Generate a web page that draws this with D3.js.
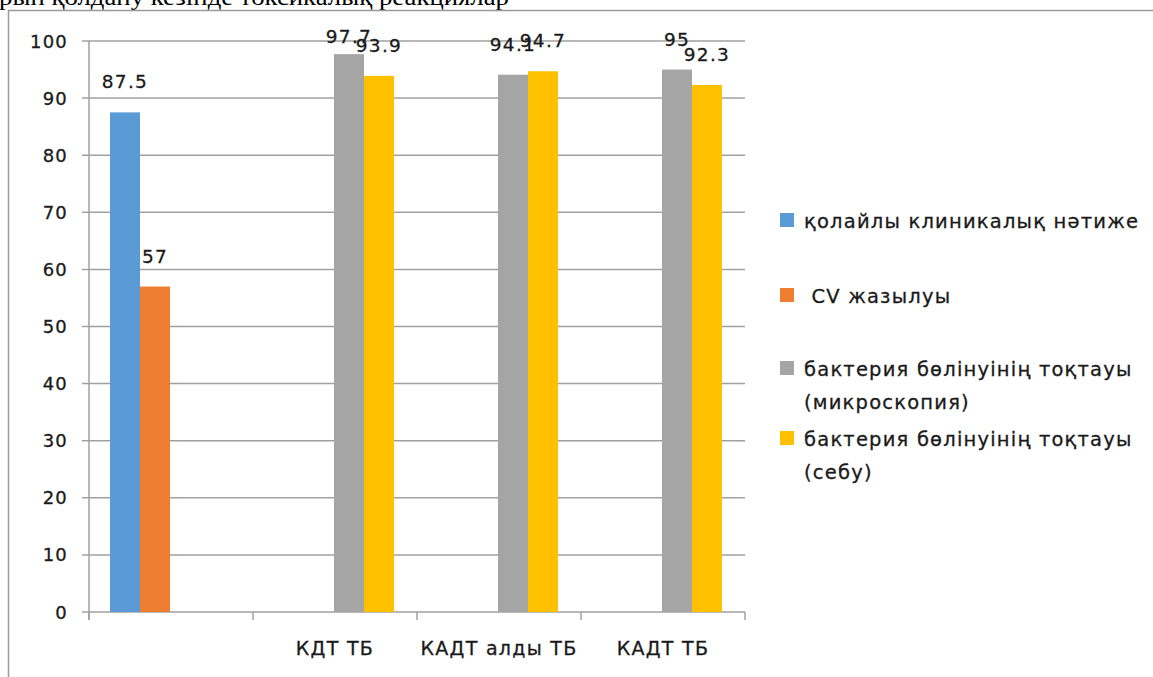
<!DOCTYPE html>
<html>
<head>
<meta charset="utf-8">
<script src="https://cdn.jsdelivr.net/npm/d3@7"></script>
<style>
  html, body { margin: 0; padding: 0; background: #fff; overflow: hidden; }
  text { font-family: "DejaVu Sans", sans-serif; fill: #1a1a1a; }
  text.lbl { stroke: #1a1a1a; stroke-width: 0.3px; }
</style>
</head>
<body>
<svg id="chart" width="1153" height="677"></svg>
<script>
const categories = ["", "КДТ ТБ", "КАДТ алды ТБ", "КАДТ ТБ"];
const seriesNames = [
  ["қолайлы клиникалық нәтиже"],
  [" CV жазылуы"],
  ["бактерия бөлінуінің тоқтауы", "(микроскопия)"],
  ["бактерия бөлінуінің тоқтауы", "(себу)"]
];
const favourable = [87.5, null, null, null];
const cvHealing = [57, null, null, null];
const stopMicroscopy = [null, 97.7, 94.1, 95];
const stopCulture = [null, 93.9, 94.7, 92.3];
const yTicks = [0, 10, 20, 30, 40, 50, 60, 70, 80, 90, 100];
const colors = ["#5B9BD5", "#ED7D31", "#A5A5A5", "#FFC000"];
const titleText = "рын қолдану кезінде токсикалық реакциялар";

const series = [favourable, cvHealing, stopMicroscopy, stopCulture];

const svg = d3.select("#chart");

// title (cut at top)
svg.append("text")
  .attr("x", -1).attr("y", 5)
  .attr("textLength", 510)
  .attr("lengthAdjust", "spacingAndGlyphs")
  .style("font-family", "'Liberation Serif', serif")
  .style("font-size", "23px")
  .style("fill", "#000")
  .text(titleText);

// border
svg.append("rect")
  .attr("x", 8.5).attr("y", 10.5)
  .attr("width", 1160).attr("height", 700)
  .attr("fill", "none").attr("stroke", "#9a9a9a").attr("stroke-width", 1.5);

const plotLeft = 89, plotRight = 745, plotTop = 41, plotBottom = 612;

const y = d3.scaleLinear().domain([0, 100]).range([plotBottom, plotTop]);
const x0 = d3.scaleBand().domain(categories.map((c, i) => i)).range([plotLeft, plotRight]).padding(0);
const x1 = d3.scaleBand().domain(d3.range(series.length))
  .range([21, x0.bandwidth() - 23]).padding(0);

// gridlines
svg.append("g").selectAll("line").data(yTicks).join("line")
  .attr("x1", plotLeft - 7).attr("x2", plotRight)
  .attr("y1", d => y(d)).attr("y2", d => y(d))
  .attr("stroke", "#a0a0a0").attr("stroke-width", 1.5);

// y axis line
svg.append("line")
  .attr("x1", plotLeft).attr("x2", plotLeft)
  .attr("y1", plotTop).attr("y2", plotBottom + 8)
  .attr("stroke", "#a0a0a0").attr("stroke-width", 1.5);

// y tick labels
svg.append("g").selectAll("text").data(yTicks).join("text")
  .attr("class", "lbl")
  .attr("x", 68).attr("y", d => y(d) + 6.5)
  .attr("text-anchor", "end")
  .style("font-size", "18px").style("letter-spacing", "1.2px")
  .text(d => d);

// x ticks
const xTickPos = d3.range(categories.length + 1).map(i => i === categories.length ? plotRight : x0(i));
svg.append("g").selectAll("line").data(xTickPos).join("line")
  .attr("x1", d => d).attr("x2", d => d)
  .attr("y1", plotBottom).attr("y2", plotBottom + 8)
  .attr("stroke", "#a0a0a0").attr("stroke-width", 1.5);

// x labels
svg.append("g").selectAll("text").data(categories).join("text")
  .attr("class", "lbl")
  .attr("x", (d, i) => x0(i) + x0.bandwidth() / 2)
  .attr("y", 655)
  .attr("text-anchor", "middle")
  .style("font-size", "19px").style("letter-spacing", "1.3px")
  .text(d => d);

// bars
const barData = [];
series.forEach((s, si) => s.forEach((v, ci) => { if (v != null) barData.push({si, ci, v}); }));

svg.append("g").selectAll("rect").data(barData).join("rect")
  .attr("x", d => x0(d.ci) + x1(d.si))
  .attr("y", d => y(d.v))
  .attr("width", x1.bandwidth())
  .attr("height", d => y(0) - y(d.v))
  .attr("fill", d => colors[d.si]);

// value labels
svg.append("g").selectAll("text").data(barData).join("text")
  .attr("class", "lbl")
  .attr("x", d => x0(d.ci) + x1(d.si) + x1.bandwidth() / 2)
  .attr("y", d => Math.max(y(d.v) - 24, 43))
  .attr("text-anchor", "middle")
  .style("font-size", "18.5px").style("letter-spacing", "1.3px")
  .text(d => d.v);

// legend
const legendY = [228, 303, 376, 446];
const leg = svg.append("g").selectAll("g").data(seriesNames).join("g")
  .attr("transform", (d, i) => `translate(780, ${legendY[i]})`);
leg.append("rect").attr("x", 0).attr("y", -15).attr("width", 14).attr("height", 14)
  .attr("fill", (d, i) => colors[i]);
leg.each(function(lines) {
  const g = d3.select(this);
  lines.forEach((t, j) => {
    g.append("text").attr("class", "lbl").attr("x", 24).attr("y", j * 33)
      .attr("xml:space", "preserve")
      .style("white-space", "pre")
      .style("font-size", "19.5px").style("letter-spacing", "1.2px")
      .text(t);
  });
});
</script>
</body>
</html>
